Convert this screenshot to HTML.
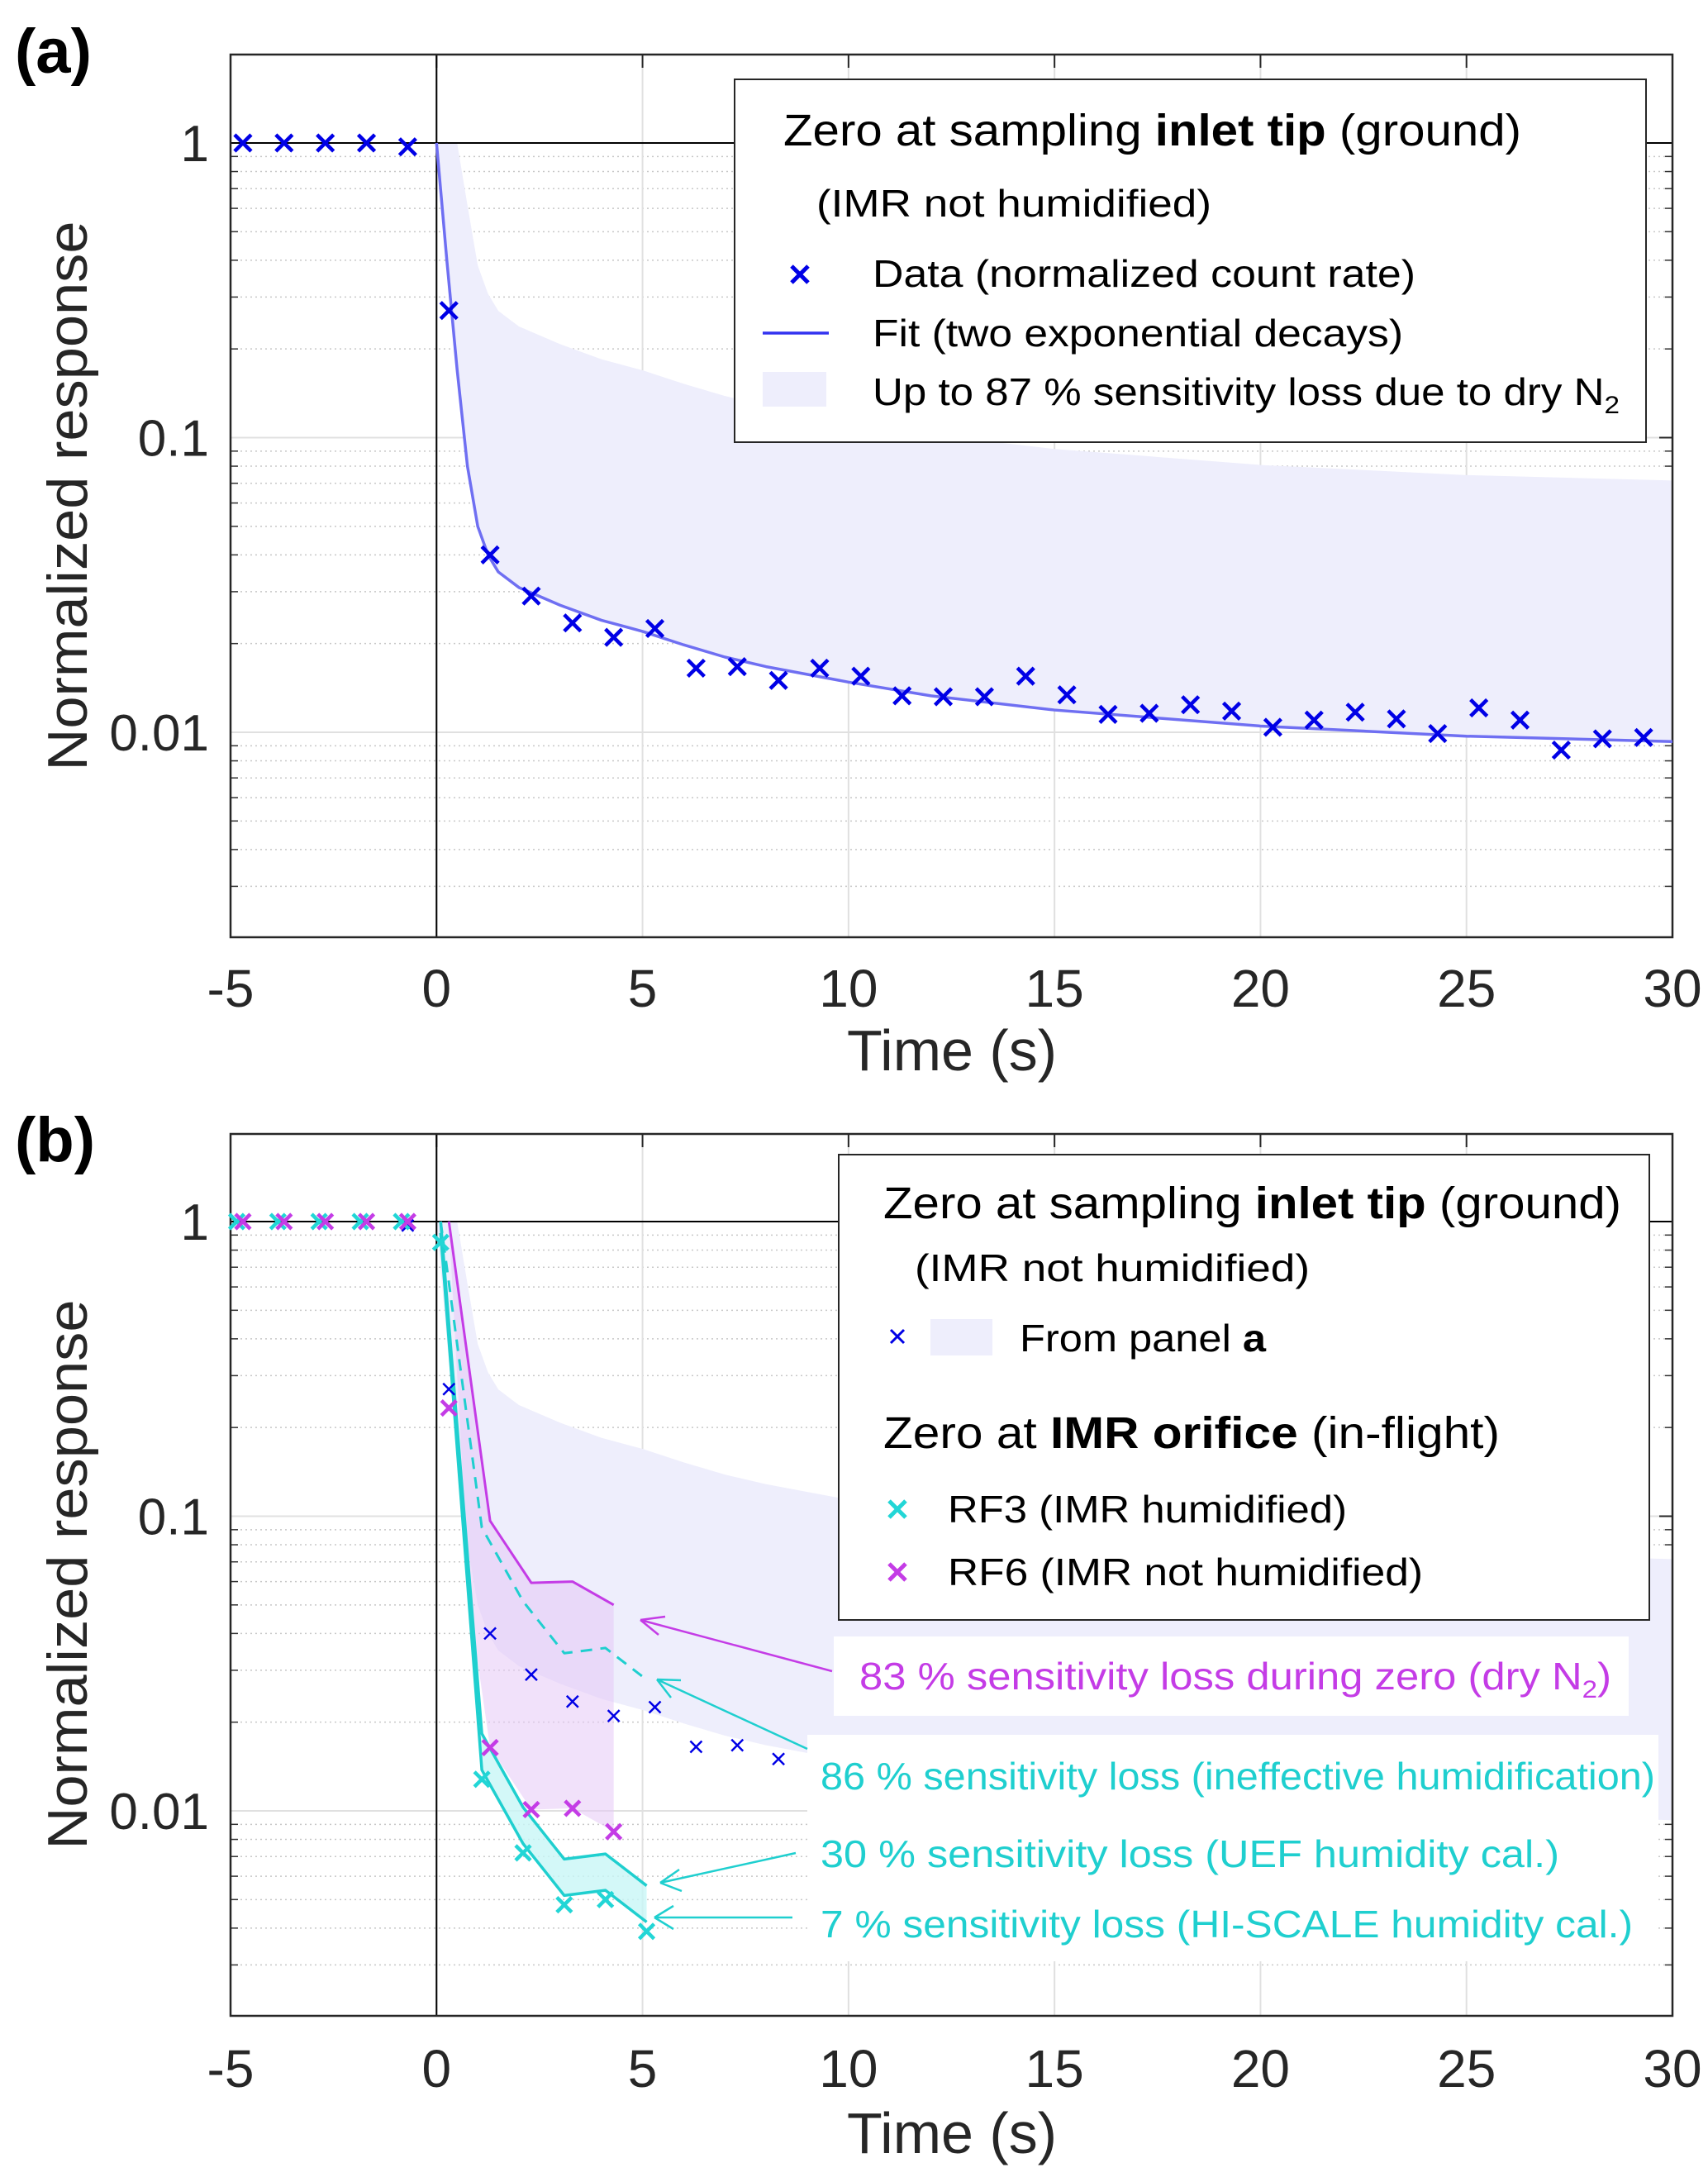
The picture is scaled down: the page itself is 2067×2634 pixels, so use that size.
<!DOCTYPE html>
<html><head><meta charset="utf-8"><style>
html,body{margin:0;padding:0;background:#fff}
svg{display:block;font-family:"Liberation Sans",sans-serif}
</style></head><body>
<svg id="fig" width="2067" height="2634" viewBox="0 0 2067 2634" xmlns="http://www.w3.org/2000/svg">
<rect x="0" y="0" width="2067" height="2634" fill="#fff"/>
<g id="pa"></g>
<g id="pb"></g>
<g id="over"></g>
</svg>
<script>
// ---- data ----
const xTicks = [-5, 0, 5, 10, 15, 20, 25, 30];
const xTickLabels = ["-5", "0", "5", "10", "15", "20", "25", "30"];
const yTicks = [1, 0.1, 0.01];
const yTickLabels = ["1", "0.1", "0.01"];
const dataTime = [-4.7,-3.7,-2.7,-1.7,-0.7,0.3,1.3,2.3,3.3,4.3,5.3,6.3,7.3,8.3,9.3,10.3,11.3,12.3,13.3,14.3,15.3,16.3,17.3,18.3,19.3,20.3,21.3,22.3,23.3,24.3,25.3,26.3,27.3,28.3,29.3];
const dataValue = [1,1,1,1,0.97,0.27,0.04,0.029,0.0235,0.021,0.0225,0.0165,0.0167,0.015,0.0165,0.0155,0.0133,0.0132,0.0132,0.0155,0.0134,0.0115,0.0116,0.0124,0.0118,0.0104,0.011,0.0117,0.0111,0.0099,0.0121,0.011,0.0087,0.0095,0.0096];
const fitTime = [0,0.25,0.5,0.75,1,1.25,1.5,2,3,4,5,6,7,8,10,12,15,20,25,30];
const fitValue = [1,0.4,0.17,0.08,0.05,0.04,0.035,0.031,0.027,0.024,0.022,0.0198,0.018,0.0167,0.0148,0.0133,0.0119,0.0105,0.0097,0.0093];
const dryLossA = 0.87;
const rf3Time = [-4.85,-3.85,-2.85,-1.85,-0.85,0.1,1.1,2.1,3.1,4.1,5.1];
const rf3Value = [1,1,1,1,1,0.85,0.0128,0.0072,0.0048,0.005,0.0039];
const rf6Time = [-4.7,-3.7,-2.7,-1.7,-0.7,0.3,1.3,2.3,3.3,4.3];
const rf6Value = [1,1,1,1,1,0.233,0.0164,0.0101,0.0102,0.0085];
const rf6Loss = 0.83;
const rf3LossIneff = 0.86;
const rf3LossUEF = 0.30;
const rf3LossHI = 0.07;

const NS = "http://www.w3.org/2000/svg";
function mk(parent, tag, attrs){const e=document.createElementNS(NS,tag);for(const k in attrs)e.setAttribute(k,attrs[k]);parent.appendChild(e);return e;}

function makePanel(g, P){
  const xs = t => P.left + (t+5)*(P.right-P.left)/35;
  const ys = v => P.y1 - Math.log10(v)*P.dec;
  P.xs=xs; P.ys=ys;
  // minor grid
  for(let d=-3; d<=0; d++){
    for(let m=2;m<=9;m++){
      const v=m*Math.pow(10,d); const y=ys(v);
      if(y<P.top||y>P.bottom) continue;
      let l=mk(g,'line',{x1:P.left,x2:P.right,y1:y,y2:y,stroke:'#c8c8c8','stroke-width':1.5,'stroke-dasharray':'2 4'});
      
      
      let t1=mk(g,'line',{x1:P.left,x2:P.left+9,y1:y,y2:y,stroke:'#333','stroke-width':1.5});
      
      
      let t2=mk(g,'line',{x1:P.right-9,x2:P.right,y1:y,y2:y,stroke:'#333','stroke-width':1.5});
      
      
    }
  }
  yTicks.forEach((v,i)=>{
    const y=ys(v);
    let l=mk(g,'line',{x1:P.left,x2:P.right,y1:y,y2:y,stroke:'#e0e0e0','stroke-width':2});
    
    
    let tx=mk(g,'text',{x:P.left-26,y:y+22,'font-size':62,'text-anchor':'end',fill:'#262626'});
    tx.textContent=yTickLabels[i];
    
    
    let tk=mk(g,'line',{x1:P.right-16,x2:P.right,y1:y,y2:y,stroke:'#262626','stroke-width':2});
    
    
  });
  xTicks.forEach((t,i)=>{
    const x=xs(t);
    let l=mk(g,'line',{x1:x,x2:x,y1:P.top,y2:P.bottom,stroke:'#e0e0e0','stroke-width':2});
    
    
    let tk=mk(g,'line',{x1:x,x2:x,y1:P.top,y2:P.top+16,stroke:'#262626','stroke-width':2});
    
    
    let tx=mk(g,'text',{x:x,y:P.tickBase,'font-size':64,'text-anchor':'middle',fill:'#262626'});
    tx.textContent=xTickLabels[i];
    
    
  });
  // band from panel a
  const up=fitValue.map(v=>Math.min(1,v/(1-dryLossA)));
  let pts=fitTime.map((t,i)=>xs(t)+','+ys(up[i]));
  for(let i=fitTime.length-1;i>=0;i--) pts.push(xs(fitTime[i])+','+ys(fitValue[i]));
  let band=mk(g,'polygon',{points:pts.join(' '),fill:'#eeeefc'});
  
  
  // reference lines
  let zl=mk(g,'line',{x1:xs(0),x2:xs(0),y1:P.top,y2:P.bottom,stroke:'#000','stroke-width':2});
  
  
  let ol=mk(g,'line',{x1:P.left,x2:P.right,y1:ys(1),y2:ys(1),stroke:'#000','stroke-width':2});
  
  
  let box=mk(g,'rect',{x:P.left,y:P.top,width:P.right-P.left,height:P.bottom-P.top,fill:'none',stroke:'#262626','stroke-width':2.5});
  
  
  let xt=mk(g,'text',{x:1152,y:P.titleBase,'font-size':70,'text-anchor':'middle',fill:'#262626'});
  xt.textContent='Time (s)';
  
  
  let yt=mk(g,'text',{x:0,y:0,'font-size':68,'text-anchor':'middle',fill:'#262626',transform:`translate(105,${P.ylabY}) rotate(-90)`,textLength:665,lengthAdjust:'spacingAndGlyphs'});
  yt.textContent='Normalized response';
  
  
  let pl=mk(g,'text',{x:18,y:P.labelBase,'font-size':76,'font-weight':'bold',fill:'#000'});
  pl.textContent=P.label;
  
  
}
function cross(g,x,y,h,color,sw,name){
  let p=mk(g,'path',{d:`M${x-h},${y-h}L${x+h},${y+h}M${x-h},${y+h}L${x+h},${y-h}`,stroke:color,'stroke-width':sw,fill:'none'});
  
  
}
function line(g,T,V,color,sw,name,dash){
  let pts=T.map((t,i)=>PX(t)+','+PY(V[i])).join(' ');
  let p=mk(g,'polyline',{points:pts,stroke:color,'stroke-width':sw,fill:'none','stroke-linejoin':'round'});
  if(dash)p.setAttribute('stroke-dasharray',dash);
  
  
}
let PX,PY;

// Panel a
const A={left:279,right:2024,top:66,bottom:1134,y1:173,dec:356.5,tickBase:1218,titleBase:1295,ylabY:600,label:'(a)',labelBase:88};
const ga=document.getElementById('pa');
makePanel(ga,A);
PX=A.xs;PY=A.ys;
line(ga,fitTime,fitValue,'#6f6ff2',3.5,'fit-line');
dataTime.forEach((t,i)=>cross(ga,A.xs(t),A.ys(dataValue[i]),10,'#0000e6',4.5,'data-marker'));

// Panel b
const B={left:279,right:2024,top:1372,bottom:2439,y1:1478,dec:356.5,tickBase:2525,titleBase:2605,ylabY:1905,label:'(b)',labelBase:1405};
const gb=document.getElementById('pb');
makePanel(gb,B);
PX=B.xs;PY=B.ys;
// pink fill
const rf6Up=rf6Value.map(v=>Math.min(1,v/(1-rf6Loss)));
{
  let pts=[];
  for(let i=5;i<rf6Time.length;i++)pts.push(B.xs(rf6Time[i])+','+B.ys(rf6Up[i]));
  for(let i=rf6Time.length-1;i>=6;i--)pts.push(B.xs(rf6Time[i])+','+B.ys(rf6Value[i]));
  pts.push(B.xs(0.8)+','+B.ys(0.05));
  let p=mk(gb,'polygon',{points:pts.join(' '),fill:'#e6c8f5','fill-opacity':0.55});
  
  
}
const r3T=rf3Time.slice(5), r3V=rf3Value.slice(5);
const r3Ineff=r3V.map(v=>Math.min(1,v/(1-rf3LossIneff)));
const r3UEF=r3V.map(v=>Math.min(1,v/(1-rf3LossUEF)));
const r3HI=r3V.map(v=>Math.min(1,v/(1-rf3LossHI)));
{
  let pts=r3T.map((t,i)=>B.xs(t)+','+B.ys(r3UEF[i]));
  for(let i=r3T.length-1;i>=0;i--)pts.push(B.xs(r3T[i])+','+B.ys(r3HI[i]));
  let p=mk(gb,'polygon',{points:pts.join(' '),fill:'#c8f6f6','fill-opacity':0.8});
  
  
}
line(gb,rf6Time.slice(5),rf6Up.slice(5),'#c43ce6',3,'rf6-dry-loss-line');
line(gb,r3T,r3Ineff,'#1fcfcf',3,'rf3-ineffective-line','14 10');
line(gb,r3T,r3UEF,'#1fcfcf',3.5,'rf3-uef-line');
line(gb,r3T,r3HI,'#1fcfcf',3.5,'rf3-hiscale-line');
dataTime.forEach((t,i)=>cross(gb,B.xs(t),B.ys(dataValue[i]),7,'#0000e6',2.5,'panel-a-marker'));
rf3Time.forEach((t,i)=>cross(gb,B.xs(t),B.ys(rf3Value[i]),9,'#22d6d6',4.5,'rf3-marker'));
rf6Time.forEach((t,i)=>cross(gb,B.xs(t),B.ys(rf6Value[i]),9,'#c43ce6',4.5,'rf6-marker'));
</script>
<svg width="2067" height="2634" viewBox="0 0 2067 2634" style="position:absolute;left:0;top:0">
<!-- legend a -->
<g font-family="Liberation Sans, sans-serif" fill="#000">
<rect x="889" y="96" width="1103" height="439" fill="#fff" stroke="#262626" stroke-width="2"/>
<text x="948" y="176" font-size="54" textLength="893" lengthAdjust="spacingAndGlyphs">Zero at sampling <tspan font-weight="bold">inlet tip</tspan> (ground)</text>
<text x="988" y="262" font-size="46" textLength="478" lengthAdjust="spacingAndGlyphs">(IMR not humidified)</text>
<path d="M958,322L978,342M958,342L978,322" stroke="#0000e6" stroke-width="5"/>
<text x="1056" y="347" font-size="46" textLength="657" lengthAdjust="spacingAndGlyphs">Data (normalized count rate)</text>
<line x1="923" y1="403" x2="1003" y2="403" stroke="#3333f0" stroke-width="3.5"/>
<text x="1056" y="419" font-size="46" textLength="642" lengthAdjust="spacingAndGlyphs">Fit (two exponential decays)</text>
<rect x="923" y="450" width="77" height="42" fill="#eeeefc"/>
<text x="1056" y="490" font-size="46" textLength="904" lengthAdjust="spacingAndGlyphs">Up to 87 % sensitivity loss due to dry N<tspan font-size="30" dy="10">2</tspan></text>
</g>
<!-- annotation boxes b -->
<rect x="1009" y="1980" width="962" height="96" fill="#fff"/>
<rect x="977" y="2099" width="1030" height="274" fill="#fff"/>
<g font-family="Liberation Sans, sans-serif">
<text x="1040" y="2044" font-size="46" fill="#c43ce6" textLength="910" lengthAdjust="spacingAndGlyphs">83 % sensitivity loss during zero (dry N<tspan font-size="30" dy="10">2</tspan><tspan dy="-10">)</tspan></text>
<text x="993" y="2165" font-size="46" fill="#1fcfcf" textLength="1010" lengthAdjust="spacingAndGlyphs">86 % sensitivity loss (ineffective humidification)</text>
<text x="993" y="2259" font-size="46" fill="#1fcfcf" textLength="894" lengthAdjust="spacingAndGlyphs">30 % sensitivity loss (UEF humidity cal.)</text>
<text x="993" y="2344" font-size="46" fill="#1fcfcf" textLength="983" lengthAdjust="spacingAndGlyphs">7 % sensitivity loss (HI-SCALE humidity cal.)</text>
<g stroke-width="2.5" fill="none">
<path d="M1007,2022L775,1960M775,1960L805,1956M775,1960L797,1978" stroke="#c43ce6"/>
<path d="M977,2116L795,2032M795,2032L824,2033M795,2032L812,2054" stroke="#1fcfcf"/>
<path d="M963,2242L799,2278M799,2278L822,2262M799,2278L825,2288" stroke="#1fcfcf"/>
<path d="M959,2320L792,2320M792,2320L815,2306M792,2320L815,2334" stroke="#1fcfcf"/>
</g>
</g>
<!-- legend b -->
<g font-family="Liberation Sans, sans-serif" fill="#000">
<rect x="1015" y="1397" width="981" height="563" fill="#fff" stroke="#262626" stroke-width="2"/>
<text x="1069" y="1474" font-size="54" textLength="893" lengthAdjust="spacingAndGlyphs">Zero at sampling <tspan font-weight="bold">inlet tip</tspan> (ground)</text>
<text x="1107" y="1550" font-size="46" textLength="478" lengthAdjust="spacingAndGlyphs">(IMR not humidified)</text>
<path d="M1078,1609L1094,1625M1078,1625L1094,1609" stroke="#0000e6" stroke-width="3"/>
<rect x="1126" y="1596" width="75" height="44" fill="#eeeefc"/>
<text x="1234" y="1635" font-size="46" textLength="298" lengthAdjust="spacingAndGlyphs">From panel <tspan font-weight="bold">a</tspan></text>
<text x="1069" y="1752" font-size="54" textLength="746" lengthAdjust="spacingAndGlyphs">Zero at <tspan font-weight="bold">IMR orifice</tspan> (in-flight)</text>
<path d="M1076,1816L1096,1836M1076,1836L1096,1816" stroke="#22d6d6" stroke-width="5"/>
<text x="1147" y="1842" font-size="46" textLength="483" lengthAdjust="spacingAndGlyphs">RF3 (IMR humidified)</text>
<path d="M1076,1892L1096,1912M1076,1912L1096,1892" stroke="#c43ce6" stroke-width="5"/>
<text x="1147" y="1918" font-size="46" textLength="575" lengthAdjust="spacingAndGlyphs">RF6 (IMR not humidified)</text>
</g>
</svg>
</body></html>
